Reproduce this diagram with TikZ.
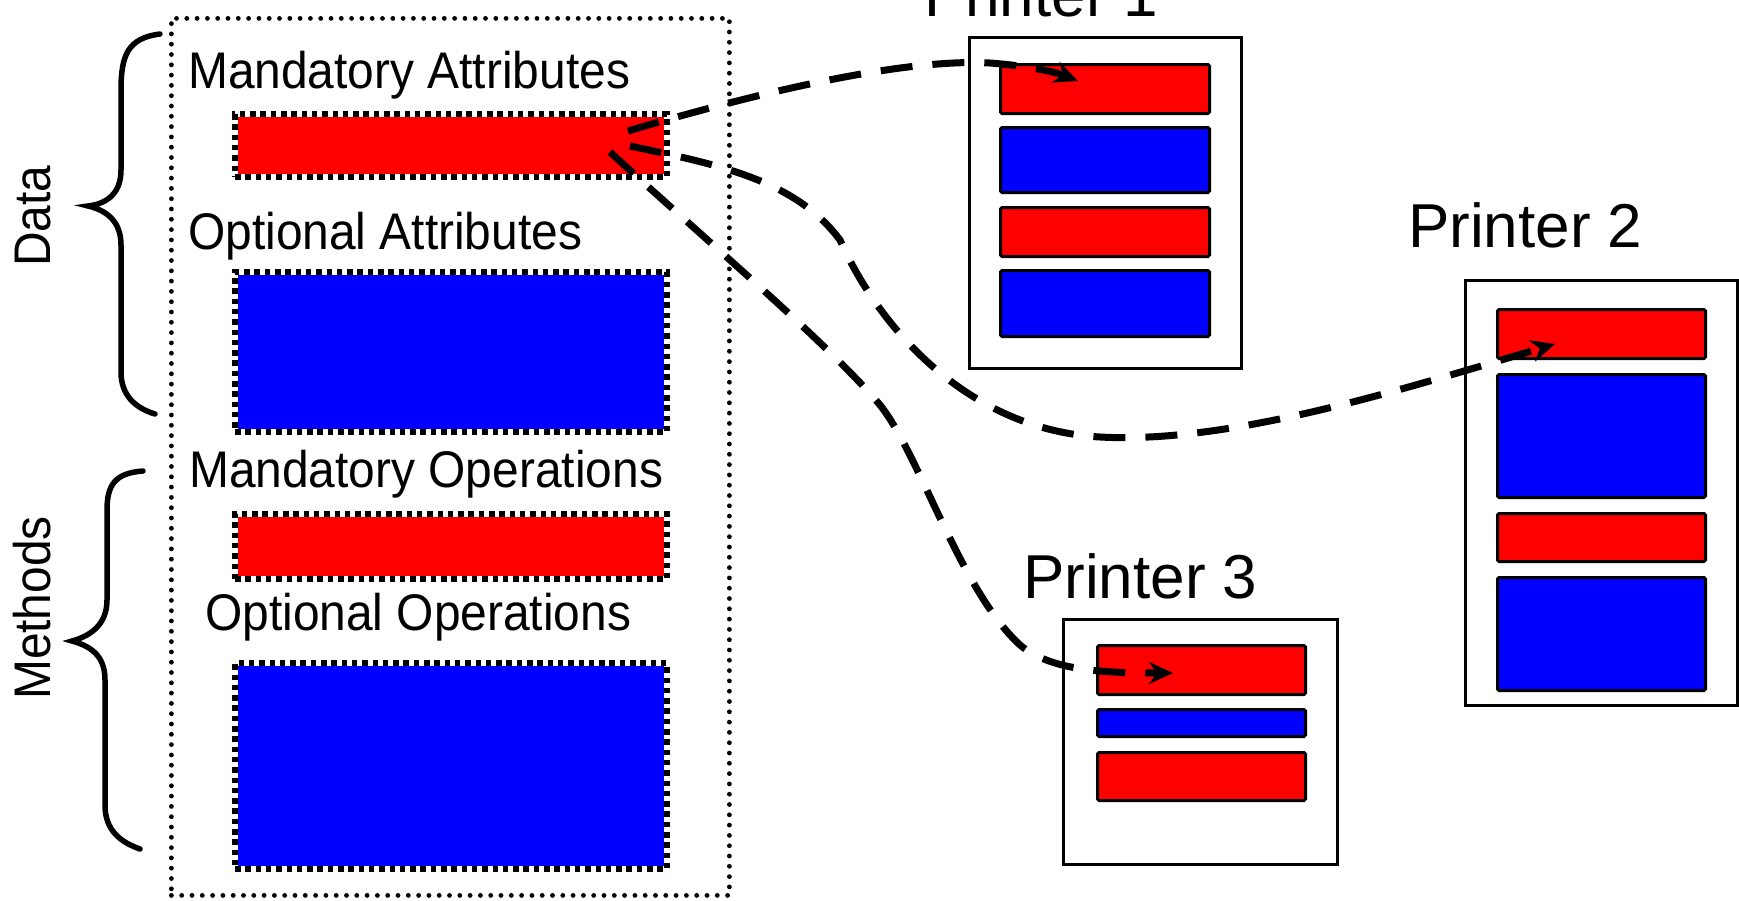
\documentclass[tikz,border=0pt]{standalone}
\usepackage{fontspec}
\setmainfont{Liberation Sans}
\usetikzlibrary{arrows.meta}
\definecolor{slotred}{RGB}{255,0,0}
\definecolor{slotblue}{RGB}{0,0,255}
% slightly condensed caption text
\newcommand\lbl[1]{{\fontsize{51.5}{60}\selectfont\scalebox{0.93}[1]{#1}}}
\newcommand\ttl{\fontsize{62}{70}\selectfont}

\begin{document}
\begin{tikzpicture}[x=1pt, y=-1pt,
  outerframe/.style={rectangle, inner sep=0, anchor=north west, draw,
    line width=4.8pt, dash pattern=on 0pt off 10.3pt, line cap=round},
  fieldbar/.style={rectangle, inner sep=0, anchor=north west, line width=6pt,
    draw=white, postaction={draw=black, dash pattern=on 5.5pt off 4.8pt}},
  pbox/.style={rectangle, inner sep=0, anchor=north west, draw, line width=2.5pt},
  slot/.style={rectangle, inner sep=0, anchor=north west, draw, line width=3pt,
    rounded corners=1.5pt},
  lbltext/.style={inner sep=0, anchor=base west},
  flow/.style={line width=7pt, dash pattern=on 32pt off 20pt,
    -{Stealth[length=24pt, width=22pt, inset=8pt]}},
  brace/.style={line width=5.5pt, line cap=round}]

\useasboundingbox (0,0) rectangle (1739,900);

% ---- type definition ----
\node[outerframe, minimum width=558pt, minimum height=877pt] (frame) at (169,16) {};

\node[lbltext] (lma) at (188,88) {\lbl{Mandatory Attributes}};
\node[fieldbar, fill=slotred, minimum width=432pt, minimum height=63pt] (mattr) at (232,111) {};
\node[lbltext] (loa) at (188,249) {\lbl{Optional Attributes}};
\node[fieldbar, fill=slotblue, minimum width=432pt, minimum height=160pt] (oattr) at (232,269) {};
\node[lbltext] (lmo) at (189,487) {\lbl{Mandatory Operations}};
\node[fieldbar, fill=slotred, minimum width=432pt, minimum height=65pt] (mops) at (232,511) {};
\node[lbltext] (loo) at (205,630) {\lbl{Optional Operations}};
\node[fieldbar, fill=slotblue, minimum width=432pt, minimum height=206pt] (oops) at (232,660) {};

% ---- braces ----
\draw[brace] (160,34) .. controls (128,38) and (121,55) .. (121,90) -- (121,170)
  .. controls (121,195) and (105,204) .. (88,206)
  .. controls (105,210) and (121,220) .. (121,245) -- (121,372)
  .. controls (121,395) and (135,408) .. (155,414);
\node[rotate=90, anchor=base, inner sep=0] (data) at (50,216) {\lbl{Data}};

\draw[brace] (143,471) .. controls (115,473) and (107,485) .. (107,510) -- (107,600)
  .. controls (107,625) and (90,636) .. (72,641)
  .. controls (90,646) and (105,655) .. (105,680) -- (105,805)
  .. controls (105,830) and (120,842) .. (140,849);
\node[rotate=90, anchor=base, inner sep=0] (methods) at (50,608) {\lbl{Methods}};

% ---- Printer 1 ----
\node[lbltext, font=\ttl] (p1t) at (924,16) {Printer 1};
\node[pbox, minimum width=272pt, minimum height=331pt] (p1) at (968,36) {};
\node[slot, fill=slotred,  minimum width=209pt, minimum height=49pt] (p1a) at (999,63) {};
\node[slot, fill=slotblue, minimum width=209pt, minimum height=65pt] (p1b) at (999,126) {};
\node[slot, fill=slotred,  minimum width=209pt, minimum height=49pt] (p1c) at (999,206) {};
\node[slot, fill=slotblue, minimum width=209pt, minimum height=66pt] (p1d) at (999,269) {};

% ---- Printer 2 ----
\node[lbltext, font=\ttl] (p2t) at (1408,247) {Printer 2};
\node[pbox, minimum width=272pt, minimum height=425pt] (p2) at (1464,279) {};
\node[slot, fill=slotred,  minimum width=208pt, minimum height=49pt]  (p2a) at (1496,308) {};
\node[slot, fill=slotblue, minimum width=208pt, minimum height=123pt] (p2b) at (1496,373) {};
\node[slot, fill=slotred,  minimum width=208pt, minimum height=48pt]  (p2c) at (1496,512) {};
\node[slot, fill=slotblue, minimum width=208pt, minimum height=113pt] (p2d) at (1496,576) {};

% ---- Printer 3 ----
\node[lbltext, font=\ttl] (p3t) at (1023,598) {Printer 3};
\node[pbox, minimum width=274pt, minimum height=245pt] (p3) at (1062,618) {};
\node[slot, fill=slotred,  minimum width=208pt, minimum height=49pt] (p3a) at (1096,644) {};
\node[slot, fill=slotblue, minimum width=208pt, minimum height=27pt] (p3b) at (1096,708) {};
\node[slot, fill=slotred,  minimum width=208pt, minimum height=48pt] (p3c) at (1096,751) {};

% ---- mappings of the mandatory attributes ----
\coordinate (s1) at (628,131);
\coordinate (s2) at (630,146);
\coordinate (s3) at (610,152);
\coordinate (e1) at (1078,81);
\coordinate (e2) at (1555,344);
\coordinate (e3) at (1173,673);

\draw[flow] (s1) .. controls (750,95) and (900,58) .. (990,63)
  .. controls (1030,66) and (1055,72) .. (e1);
\draw[flow] (s2) .. controls (720,165) and (795,180) .. (840,240)
  .. controls (880,330) and (970,430) .. (1100,437)
  .. controls (1230,444) and (1400,390) .. (e2);
\draw[flow] (s3) .. controls (700,235) and (830,345) .. (880,405)
  .. controls (920,455) and (960,590) .. (1020,645)
  .. controls (1050,670) and (1100,673) .. (e3);

\end{tikzpicture}
\end{document}
